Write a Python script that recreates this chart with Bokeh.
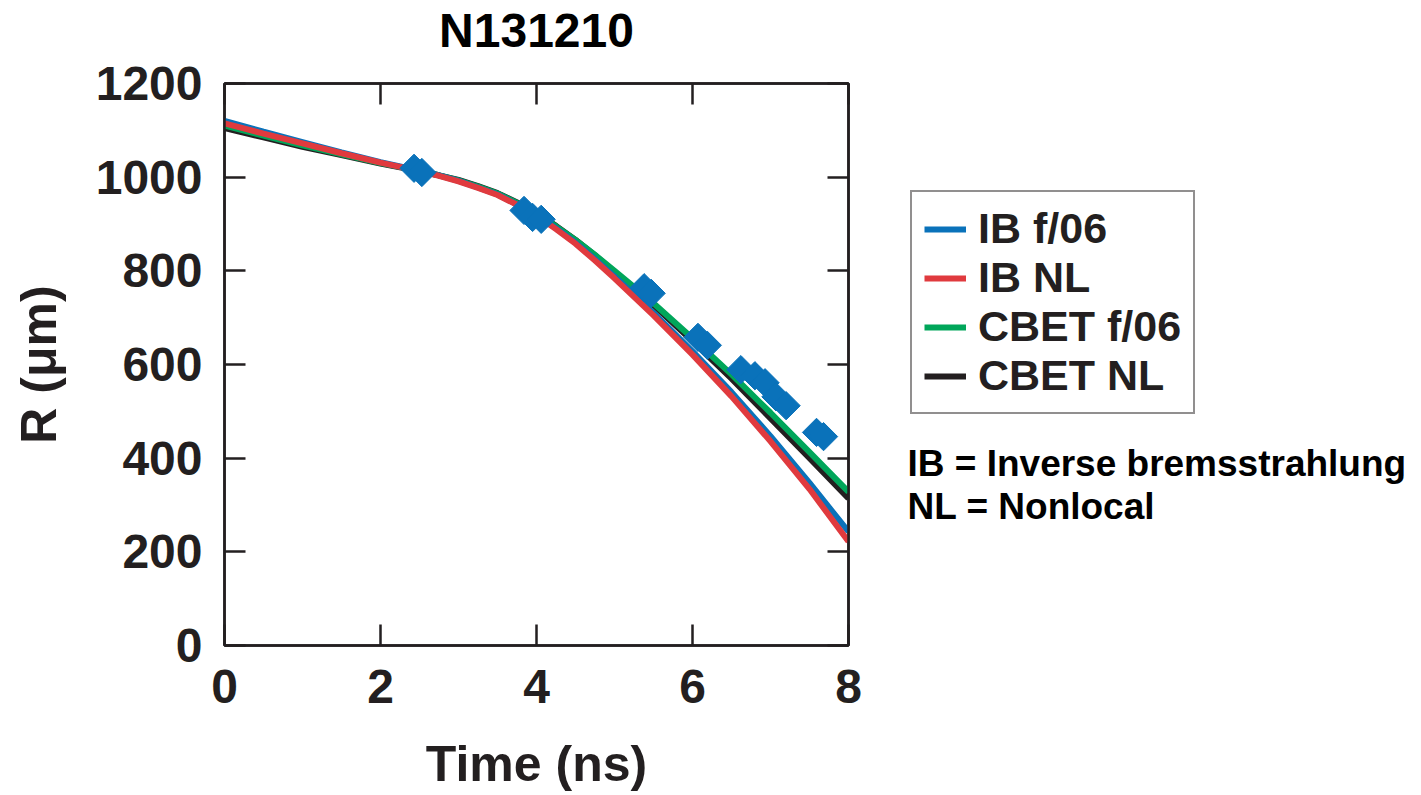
import numpy as np
from bokeh.plotting import figure
from bokeh.layouts import row
from bokeh.models import (Range1d, LinearAxis, FixedTicker, Legend, LegendItem, Label,
                          CustomJSTickFormatter)
from bokeh.embed import file_html
from bokeh.resources import INLINE

# ---- data ----
time_ns = [0, 0.5, 1, 1.5, 2, 2.25, 2.5, 2.75, 3, 3.25, 3.5, 3.75, 4, 4.25, 4.5, 4.75,
           5, 5.5, 6, 6.5, 7, 7.5, 8]
ib_f06 = [1120, 1097, 1075, 1053, 1032, 1023, 1014, 1004, 992, 978, 963, 942, 919, 891,
          860, 825, 788, 710, 628, 541, 447, 347, 243]
ib_nl = [1115, 1093, 1072, 1051, 1031, 1022, 1013, 1003, 991, 977, 962, 941, 918, 889,
         858, 822, 784, 705, 621, 532, 436, 334, 222]
cbet_f06 = [1110, 1089, 1068, 1049, 1030, 1022, 1013, 1004, 993, 980, 965, 945, 922, 895,
            866, 834, 800, 731, 656, 579, 497, 413, 328]
cbet_nl = [1105, 1085, 1065, 1047, 1029, 1021, 1013, 1004, 994, 981, 966, 946, 923, 896,
           866, 833, 798, 727, 650, 570, 485, 400, 314]

meas_t = [2.43, 2.53, 3.84, 3.95, 4.06, 5.38, 5.47, 6.07, 6.19, 6.62, 6.80, 6.93, 7.07, 7.20, 7.59, 7.68]
meas_r = [1019, 1010, 929, 914, 910, 764, 752, 658, 641, 589, 576, 561, 531, 512, 455, 446]

x_ticks = [0, 2, 4, 6, 8]
y_ticks = [0, 200, 400, 600, 800, 1000, 1200]

title_text = "N131210"
series_labels = ["IB f/06", "IB NL", "CBET f/06", "CBET NL"]
notes = ["IB = Inverse bremsstrahlung", "NL = Nonlocal"]

# ---- style ----
FONT = "Liberation Sans"
INK = "#231F20"
C_BLUE = "#0A72BA"
C_RED = "#E03A3E"
C_GREEN = "#00A65A"
C_BLACK = "#231F20"
W_TOTAL, H_TOTAL = 1420, 794
W_MAIN = 872
FRAME_L, FRAME_R, FRAME_T, FRAME_B = 224, 848, 82, 645

p = figure(width=W_MAIN, height=H_TOTAL, output_backend="svg", toolbar_location=None,
           title_location=None,
           x_range=Range1d(0, 8), y_range=Range1d(0, 1200),
           min_border_left=FRAME_L, min_border_right=W_MAIN - FRAME_R,
           min_border_top=FRAME_T, min_border_bottom=H_TOTAL - FRAME_B)
p.background_fill_color = "white"
p.border_fill_color = "white"
p.outline_line_color = INK
p.outline_line_width = 2.5
p.grid.visible = False


def style_axis(ax, show_labels=True):
    ax.axis_line_color = INK
    ax.axis_line_width = 2.5
    ax.major_tick_in = 21
    ax.major_tick_out = 0
    ax.major_tick_line_color = INK
    ax.major_tick_line_width = 2.5
    ax.minor_tick_line_color = None
    ax.major_label_text_font = FONT
    ax.major_label_text_font_style = "bold"
    ax.major_label_text_color = INK
    ax.axis_label_text_font = FONT
    ax.axis_label_text_font_style = "bold"
    ax.axis_label_text_color = INK
    ax.major_label_text_font_size = "48px"
    ax.axis_label_text_font_size = "50px"
    if not show_labels:
        ax.formatter = CustomJSTickFormatter(code="return ''")
        ax.major_label_standoff = 0
        ax.major_label_text_font_size = "6px"


p.xaxis.ticker = FixedTicker(ticks=x_ticks)
p.yaxis.ticker = FixedTicker(ticks=y_ticks)
style_axis(p.xaxis[0])
style_axis(p.yaxis[0])
p.xaxis.axis_label = "Time (ns)"
p.yaxis.axis_label = "R (μm)"
p.xaxis.major_label_standoff = 24
p.yaxis.major_label_standoff = 22
p.xaxis.axis_label_standoff = 30
p.yaxis.axis_label_standoff = 26

# top axis: mirrored ticks, and it carries the chart title as its label
top_ax = LinearAxis(ticker=FixedTicker(ticks=x_ticks))
style_axis(top_ax, show_labels=False)
top_ax.axis_label = title_text
top_ax.axis_label_text_font_size = "48px"
top_ax.axis_label_text_color = "#000000"
top_ax.axis_label_standoff = 27
p.add_layout(top_ax, "above")
right_ax = LinearAxis(ticker=FixedTicker(ticks=y_ticks))
style_axis(right_ax, show_labels=False)
p.add_layout(right_ax, "right")

# ---- curves ----
lw = 6
p.line(time_ns, cbet_nl, line_color=C_BLACK, line_width=lw)
p.line(time_ns, cbet_f06, line_color=C_GREEN, line_width=lw)
p.line(time_ns, ib_f06, line_color=C_BLUE, line_width=lw)
p.line(time_ns, ib_nl, line_color=C_RED, line_width=lw)

p.scatter(meas_t, meas_r, marker="square", angle=np.pi / 4, size=20,
          fill_color=C_BLUE, line_color=C_BLUE)

# ---- side panel: legend and notes ----
W_SIDE = W_TOTAL - W_MAIN
p2 = figure(width=W_SIDE, height=H_TOTAL, output_backend="svg", toolbar_location=None,
            title_location=None,
            x_range=Range1d(0, 1), y_range=Range1d(0, 1),
            min_border_left=0, min_border_right=0,
            min_border_top=FRAME_T, min_border_bottom=H_TOTAL - FRAME_B)
p2.axis.visible = False
p2.grid.visible = False
p2.outline_line_color = None
p2.background_fill_color = "white"
p2.border_fill_color = "white"

legend_colors = [C_BLUE, C_RED, C_GREEN, C_BLACK]
items = []
for lab, col in zip(series_labels, legend_colors):
    # legend-only renderer: a single NaN point, nothing visible is drawn
    r = p2.line(x=[np.nan], y=[np.nan], line_color=col, line_width=lw)
    items.append(LegendItem(label=lab, renderers=[r]))

legend = Legend(items=items, location=(910 - W_MAIN, FRAME_B - 414))
legend.label_text_font = FONT
legend.label_text_font_size = "43px"
legend.label_text_font_style = "bold"
legend.label_text_color = INK
legend.border_line_color = INK
legend.border_line_width = 2.5
legend.background_fill_color = "white"
legend.glyph_width = 42
legend.glyph_height = 42
legend.label_height = 42
legend.label_standoff = 12
legend.spacing = 0
legend.padding = 12
legend.margin = 0
p2.add_layout(legend)

for txt, yc in zip(notes, [463, 506]):
    p2.add_layout(Label(x=907 - W_MAIN, y=FRAME_B - yc, x_units="screen", y_units="screen",
                        text=txt, text_font=FONT, text_font_size="37px",
                        text_font_style="bold", text_color="#000000",
                        text_baseline="middle", text_align="left"))

layout = row(p, p2, spacing=0)
open("out.html", "w").write(file_html(layout, INLINE))
